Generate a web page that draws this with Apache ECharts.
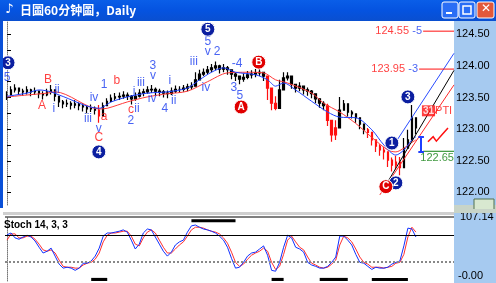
<!DOCTYPE html>
<html><head><meta charset="utf-8">
<script src="https://cdn.jsdelivr.net/npm/echarts@6/dist/echarts.min.js"></script>
<style>html,body{margin:0;padding:0;background:#fff;overflow:hidden}#c{width:496px;height:283px}</style>
</head><body><div id="c"></div>
<script>
// ---------- data ----------
const nCat = 112;
const cl = [123.54,123.62,123.65,123.60,123.59,123.62,123.59,123.60,123.56,123.54,
123.59,123.62,123.52,123.43,123.40,123.41,123.38,123.40,123.37,123.35,
123.32,123.33,123.30,123.21,123.37,123.44,123.49,123.51,123.52,123.54,
123.52,123.48,123.52,123.57,123.59,123.62,123.63,123.60,123.59,123.57,
123.56,123.60,123.63,123.63,123.65,123.67,123.68,123.78,123.87,123.90,
123.94,123.97,124.00,123.95,123.97,123.94,123.87,123.84,123.79,123.82,
123.86,123.87,123.89,123.90,123.84,123.65,123.41,123.33,123.62,123.81,
123.84,123.71,123.65,123.68,123.62,123.60,123.56,123.48,123.41,123.37,
123.14,122.91,123.02,123.30,123.40,123.27,123.24,123.18,123.08,122.99,
122.95,122.83,122.73,122.67,122.64,122.51,122.43,122.48,122.39,122.70,
122.83,123.18,123.02];
const hi = [123.60,123.68,123.71,123.66,123.64,123.68,123.64,123.66,123.61,123.60,
123.64,123.70,123.60,123.50,123.46,123.47,123.44,123.46,123.42,123.41,
123.37,123.39,123.36,123.38,123.42,123.49,123.55,123.57,123.58,123.60,
123.58,123.54,123.58,123.63,123.64,123.68,123.70,123.66,123.64,123.62,
123.61,123.66,123.69,123.68,123.70,123.72,123.74,123.90,123.94,123.96,
124.00,124.03,124.07,124.02,124.03,124.00,123.93,123.90,123.85,123.88,
123.92,123.93,123.95,123.96,123.90,123.84,123.65,123.52,123.78,123.90,
123.90,123.78,123.72,123.74,123.68,123.66,123.62,123.55,123.48,123.44,
123.40,123.14,123.14,123.51,123.46,123.34,123.30,123.25,123.14,123.06,
123.02,122.92,122.82,122.76,122.72,122.62,122.55,122.58,122.56,122.86,
122.99,123.38,123.14];
const lo = [123.46,123.56,123.58,123.54,123.53,123.55,123.52,123.54,123.49,123.47,
123.52,123.55,123.44,123.35,123.33,123.35,123.31,123.33,123.30,123.28,
123.25,123.27,123.23,123.10,123.30,123.38,123.43,123.45,123.46,123.48,
123.46,123.39,123.45,123.50,123.52,123.56,123.57,123.53,123.52,123.50,
123.49,123.54,123.57,123.57,123.59,123.60,123.62,123.68,123.80,123.84,
123.87,123.90,123.93,123.88,123.90,123.86,123.79,123.76,123.71,123.75,
123.79,123.80,123.82,123.84,123.76,123.46,123.30,123.30,123.33,123.70,
123.77,123.64,123.58,123.60,123.55,123.53,123.49,123.41,123.34,123.30,
123.05,122.80,122.83,123.10,123.32,123.20,123.17,123.10,123.00,122.92,
122.86,122.74,122.64,122.58,122.52,122.40,122.33,122.36,122.27,122.45,
122.70,123.03,122.92];
const redBars = [23,65,66,67,80,81,82,90,91,92,93,94,95,96,97,98];

const maRedIdx = [0,5,10,12,23,25,30,35,40,45,50,55,60,64,67,70,76,79,83,87,91,95,97,99,101,102];
const maRed    = [123.51,123.54,123.57,123.59,123.32,123.33,123.43,123.51,123.56,123.60,123.75,123.89,123.90,123.89,123.78,123.73,123.57,123.41,123.27,123.09,122.87,122.67,122.64,122.70,122.79,122.83];
const maBlueIdx = [0,5,8,11,13,23,26,30,35,40,45,48,51,54,57,62,65,67,69,72,76,80,83,87,91,94,97,99,101,102];
const maBlue    = [123.52,123.57,123.62,123.59,123.54,123.33,123.43,123.51,123.57,123.59,123.65,123.78,123.90,123.97,123.90,123.86,123.78,123.68,123.73,123.62,123.44,123.27,123.19,123.18,122.99,122.75,122.59,122.67,122.83,122.88];

const stK = [80,84,73,70,75,79,75,66,52,39,43,50,32,14,5,7,5,0,5,16,
16,21,32,50,77,84,84,86,88,91,86,68,48,59,84,93,91,75,59,43,
32,41,57,64,68,86,100,102,97,93,91,88,84,77,68,52,27,5,7,18,
32,39,41,48,55,34,0,-2,18,52,79,73,52,48,41,18,12,9,5,5,
9,18,30,77,77,68,57,36,18,16,9,2,7,5,5,7,14,18,21,55,95,93,75];
const stD = [68,82,82,73,73,77,77,70,59,46,43,46,39,23,9,7,7,5,5,12,
16,18,25,39,64,79,84,84,86,88,88,77,59,55,73,86,91,84,68,52,
39,39,48,57,64,77,91,97,97,95,91,88,86,82,73,61,41,18,9,14,
25,34,39,43,50,43,18,2,9,36,68,77,64,52,46,30,16,12,7,5,
7,14,23,57,77,73,64,48,30,18,14,7,7,7,5,7,9,16,18,36,75,97,86];
const stLevels = [80, 20];
const sigBottom = [[21,25],[66,69],[78,85],[91,100]];
const sigTop = [[46,57]];

const priceLabels = [122.0,122.5,123.0,123.5,124.0,124.5];
const priceTicks = [122.0,122.25,122.5,122.75,123.0,123.25,123.5,123.75,124.0,124.25,124.5];

// wave labels: [x index, price, text]
const blueLbl = [[0,123.82,'5'],[12.5,123.63,'ii'],[11.7,123.33,'i'],[21.7,123.49,'iv'],[24.2,123.71,'1'],
 [20.2,123.16,'iii'],[22.9,123.00,'v'],[33.4,123.73,'iii'],[31.7,123.60,'i'],[32.4,123.32,'ii'],[30.9,123.14,'2'],
 [36.4,124.01,'3'],[36.4,123.84,'v'],[36.2,123.48,'iv'],[39.4,123.33,'4'],[40.6,123.76,'i'],[41.6,123.45,'ii'],
 [46.6,124.06,'iii'],[49.6,123.66,'iv'],[50.1,124.38,'5'],[50.1,124.22,'v'],[52.4,124.23,'2'],
 [57.4,124.03,'-4'],[56.6,123.65,'3'],[58.1,123.53,'5']];
const redLbl = [[10.2,123.79,'B'],[8.7,123.37,'A'],[27.4,123.76,'b'],[24.2,123.19,'a'],[22.9,122.86,'C'],[30.9,123.30,'c']];
const blueCirc = [[0.25,124.05,'3'],[22.9,122.64,'4'],[50.1,124.58,'5'],[100.0,123.51,'3'],[96.0,122.78,'1'],[97.0,122.15,'2']];
const redCirc = [[58.4,123.35,'A'],[62.8,124.06,'B'],[94.5,122.09,'C']];

// projection channel lines
const chBlue = [[96.3,122.73],[111.5,124.20]];
const chBlack = [[93.8,122.04],[111.5,123.93]];
const chRed = [[93.0,121.96],[111.5,123.70]];
const target5 = 124.55, target3 = 123.95, support = 122.65;
const arrowPts = [[105.0,122.80],[106.3,122.88],[107.1,122.81],[108.6,122.92],[110.0,123.02]];
const bracket = [[[103.3,122.88],[103.3,122.64]],[[102.6,122.88],[104.0,122.88]],[[102.6,122.64],[104.0,122.64]]];

// ---------- chart ----------
const F = 'Liberation Sans, Arial, sans-serif';
const BLUE = '#1a3cf0', RED = '#ff1010';
const candle = cl.map((c, i) => {
  const o = i ? cl[i - 1] : c;
  const v = [o, c, lo[i], hi[i]];
  return redBars.includes(i) ? {value: v, itemStyle: {color: RED, color0: RED, borderColor: RED, borderColor0: RED}} : v;
});
const cats = Array.from({length: nCat}, (_, i) => i);

function lblSeries(arr, color) {
  return {type: 'scatter', xAxisIndex: 1, yAxisIndex: 0, symbolSize: 0, data: arr, z: 5, silent: true,
    label: {show: true, position: 'inside', formatter: p => p.value[2], color: color, fontSize: 12, fontFamily: F}};
}
function circSeries(arr, color) {
  return {type: 'scatter', xAxisIndex: 1, yAxisIndex: 0, symbol: 'circle', symbolSize: 14, data: arr, z: 6, silent: true,
    itemStyle: {color: color, borderColor: '#fff', borderWidth: 1, opacity: 1},
    label: {show: true, position: 'inside', formatter: p => p.value[2], color: '#fff', fontSize: 10, fontWeight: 'bold', fontFamily: F}};
}
function segLine(pts, color, type) {
  return {type: 'line', xAxisIndex: 1, yAxisIndex: 0, data: pts, showSymbol: false, silent: true, z: 4,
    lineStyle: {color: color, width: 1, type: type || 'solid'}};
}

const option = {
  animation: false,
  backgroundColor: '#fff',
  grid: [
    {left: 5, right: 42, top: 22, height: 183},
    {left: 5, right: 42, top: 217, height: 64}
  ],
  xAxis: [
    {type: 'category', gridIndex: 0, data: cats, show: false, boundaryGap: true},
    {type: 'value', gridIndex: 0, min: -0.5, max: nCat - 0.5, show: false},
    {type: 'value', gridIndex: 1, min: -0.5, max: nCat - 0.5, show: false}
  ],
  yAxis: [
    {type: 'value', gridIndex: 0, position: 'right', min: 121.8, max: 124.695, splitLine: {show: false},
      axisLine: {show: true, lineStyle: {color: '#777', type: 'dotted'}},
      axisTick: {show: true, inside: false, length: 4, lineStyle: {color: '#000'}, customValues: priceTicks},
      axisLabel: {show: true, margin: 2, color: '#000', fontSize: 11, fontFamily: F, customValues: priceLabels,
        formatter: v => v.toFixed(2)}},
    {type: 'value', gridIndex: 1, position: 'right', min: -24, max: 120, splitLine: {show: false},
      axisLine: {show: true, lineStyle: {color: '#777', type: 'dotted'}},
      axisTick: {show: false}, axisLabel: {show: false}}
  ],
  series: [
    {type: 'candlestick', xAxisIndex: 0, yAxisIndex: 0, data: candle, barWidth: 2, silent: true,
      itemStyle: {color: '#000', color0: '#000', borderColor: '#000', borderColor0: '#000', borderWidth: 1.2}},
    {type: 'line', xAxisIndex: 1, yAxisIndex: 0, data: maRedIdx.map((x, k) => [x, maRed[k]]), showSymbol: false,
      smooth: 0.3, lineStyle: {color: '#ff3a3a', width: 1}, z: 3, silent: true},
    {type: 'line', xAxisIndex: 1, yAxisIndex: 0, data: maBlueIdx.map((x, k) => [x, maBlue[k]]), showSymbol: false,
      smooth: 0.3, lineStyle: {color: '#1f40ff', width: 1}, z: 3, silent: true},
    segLine(chBlue, '#2a4cff'),
    segLine(chBlack, '#000'),
    segLine(chRed, '#ff2a2a'),
    segLine([[103.8, target5], [111.5, target5]], RED),
    segLine([[102.8, target3], [111.5, target3]], RED),
    segLine([[103.8, support], [111.5, support]], '#108010'),
    {type: 'lines', coordinateSystem: 'cartesian2d', xAxisIndex: 1, yAxisIndex: 0, polyline: true, silent: true, z: 6,
      symbol: ['none', 'arrow'], symbolSize: 7, lineStyle: {color: RED, width: 1.5, opacity: 1},
      data: [{coords: arrowPts}]},
    {type: 'lines', coordinateSystem: 'cartesian2d', xAxisIndex: 1, yAxisIndex: 0, silent: true, z: 6,
      lineStyle: {color: '#1f3fff', width: 2, opacity: 1}, data: bracket.map(c => ({coords: c}))},
    lblSeries(blueLbl, BLUE),
    lblSeries(redLbl, RED),
    circSeries(blueCirc, '#0c1fa0'),
    circSeries(redCirc, '#e00000'),
    {type: 'scatter', xAxisIndex: 1, yAxisIndex: 0, symbolSize: 0, silent: true, z: 7,
      data: [[103.8, target5, '124.55', '-5'], [102.8, target3, '123.95', '-3']],
      label: {show: true, position: 'left', distance: 1, fontFamily: F,
        formatter: p => '{r|' + p.value[2] + '} {b|' + p.value[3] + '}',
        rich: {r: {color: RED, fontSize: 11}, b: {color: BLUE, fontSize: 11}}}},
    {type: 'scatter', xAxisIndex: 1, yAxisIndex: 0, symbolSize: 0, silent: true, z: 7,
      data: [[107.3, 122.54, support.toFixed(2)]],
      label: {show: true, position: 'inside', formatter: p => p.value[2], color: '#108010', fontSize: 11, fontFamily: F}},
    {type: 'scatter', xAxisIndex: 1, yAxisIndex: 0, symbolSize: 0, silent: true, z: 7,
      data: [[103.5, 123.29, '31', 'PTI']],
      label: {show: true, position: 'right', distance: 0, fontFamily: F,
        formatter: p => '{a|' + p.value[2] + '}{b|' + p.value[3] + '}',
        rich: {a: {color: '#fff', backgroundColor: RED, fontSize: 10, fontWeight: 'bold', padding: [1, 1, 0, 1]},
               b: {color: RED, fontSize: 11}}}},
    // stochastic
    {type: 'line', xAxisIndex: 2, yAxisIndex: 1, data: stD.map((v, i) => [i, v]), showSymbol: false, silent: true,
      lineStyle: {color: '#ff3030', width: 1}, z: 3,
      markLine: {silent: true, symbol: 'none', label: {show: false},
        data: [{yAxis: stLevels[0], lineStyle: {color: '#000', type: 'solid', width: 1}},
               {yAxis: stLevels[1], lineStyle: {color: '#888', type: 'dotted', width: 2}}]},
      markArea: {silent: true, itemStyle: {color: '#000'},
        data: sigBottom.map(r => [{xAxis: r[0], yAxis: -24}, {xAxis: r[1], yAxis: -17}])
          .concat(sigTop.map(r => [{xAxis: r[0], yAxis: 108}, {xAxis: r[1], yAxis: 115}]))}},
    {type: 'line', xAxisIndex: 2, yAxisIndex: 1, data: stK.map((v, i) => [i, v]), showSymbol: false, silent: true,
      lineStyle: {color: '#1030ff', width: 1}, z: 4}
  ],
  graphic: [
    {type: 'rect', z: -5, shape: {x: 454, y: 21, width: 42, height: 262}, style: {fill: '#a6caf0'}},
    {type: 'rect', z: 10, shape: {x: 0, y: 0, width: 496, height: 21},
      style: {fill: new echarts.graphic.LinearGradient(0, 0, 0, 1, [{offset: 0, color: '#0a5ee8'}, {offset: 0.5, color: '#0553e0'}, {offset: 1, color: '#0a4fd0'}])}},
    {type: 'rect', z: 10, shape: {x: 0, y: 21, width: 3, height: 187}, style: {fill: '#0a50d8'}},
    {type: 'text', z: 11, left: 5, top: 3, style: {text: '♪', fill: '#fff', font: 'bold 13px DejaVu Sans'}},
    {type: 'text', z: 11, left: 20, top: 4, style: {text: '日圖60分钟圖，Daily', fill: '#fff', font: 'bold 12px "Noto Sans CJK SC", "DejaVu Sans Mono", monospace'}},
    {type: 'rect', z: 11, shape: {x: 442, y: 2, width: 16, height: 16, r: 2}, style: {fill: '#2a6ef5', stroke: '#fff', lineWidth: 1}},
    {type: 'rect', z: 12, shape: {x: 446, y: 12, width: 6, height: 2}, style: {fill: '#fff'}},
    {type: 'rect', z: 11, shape: {x: 459, y: 2, width: 16, height: 16, r: 2}, style: {fill: '#2a6ef5', stroke: '#fff', lineWidth: 1}},
    {type: 'rect', z: 12, shape: {x: 463, y: 6, width: 8, height: 8}, style: {fill: 'none', stroke: '#fff', lineWidth: 1.5}},
    {type: 'rect', z: 11, shape: {x: 477, y: 2, width: 17, height: 16, r: 2}, style: {fill: '#e2583a', stroke: '#fff', lineWidth: 1}},
    {type: 'text', z: 12, left: 481, top: 3, style: {text: '✕', fill: '#fff', font: 'bold 12px DejaVu Sans'}},
    {type: 'rect', z: 1, shape: {x: 3, y: 212, width: 451, height: 3}, style: {fill: '#cfcfcf'}},
    {type: 'rect', z: 1, shape: {x: 454, y: 205, width: 42, height: 7}, style: {fill: '#c8d4c8'}},
    {type: 'line', z: 1, shape: {x1: 5, y1: 217, x2: 454, y2: 217}, style: {stroke: '#000', lineWidth: 1}},
    {type: 'rect', z: 2, shape: {x: 474, y: 199, width: 20, height: 12}, style: {fill: '#d8e8d0', stroke: '#507050', lineWidth: 1}},
    {type: 'text', z: 3, left: 460, top: 211, style: {text: '107.14', fill: '#000', font: '11px Liberation Sans'}},
    {type: 'rect', z: 4, shape: {x: 454, y: 209, width: 42, height: 4}, style: {fill: '#c8d4c8'}},
    {type: 'text', z: 3, left: 458, top: 270, style: {text: '-0.00', fill: '#000', font: '11px Liberation Sans'}},
    {type: 'text', z: 3, left: 4, top: 220, style: {text: 'Stoch 14, 3, 3', fill: '#000', font: 'bold 10px Liberation Sans'}}
  ]
};
const chart = echarts.init(document.getElementById('c'));
chart.setOption(option);
</script>
</body></html>
